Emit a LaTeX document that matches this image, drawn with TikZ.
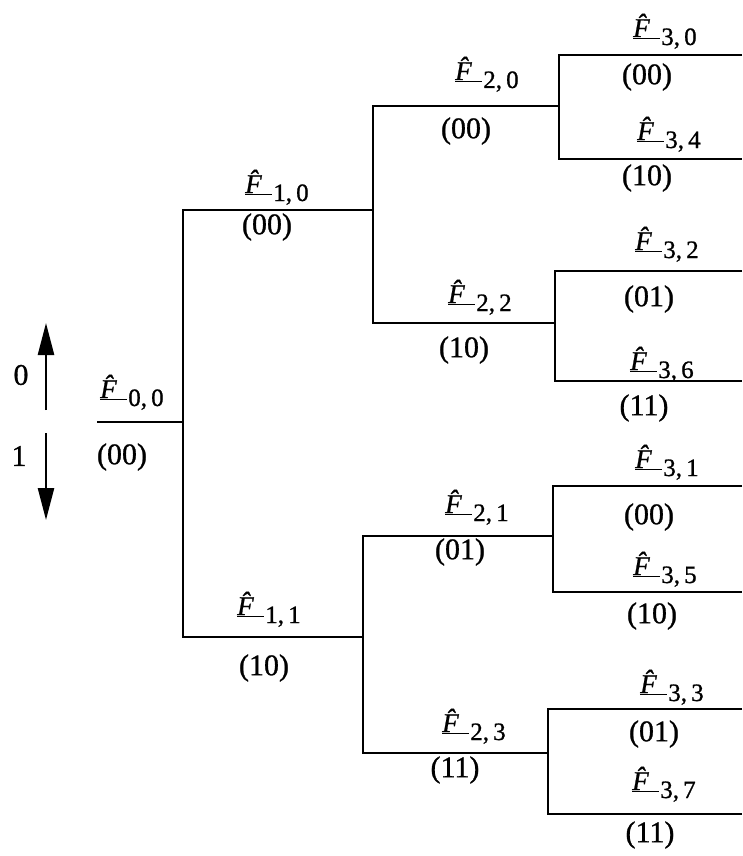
\documentclass[tikz,border=0pt]{standalone}
\usepackage{fontspec}
\setmainfont{Liberation Serif}[
  UprightFeatures={FakeBold=0.9},
  ItalicFeatures={FakeBold=0.9}]
\usetikzlibrary{arrows.meta}

% estimator label: underlined F-hat with a lowered index pair
\newcommand{\Fest}[2]{\underline{\textit{\^{F}}}\kern1.5pt\raisebox{-8pt}{\fontsize{25}{25}\selectfont#1,\,#2}}

\tikzset{
  wire/.style={line width=2.7pt, line join=miter},
  flab/.style={inner sep=0pt, anchor=base west, font=\fontsize{27}{27}\selectfont},
  clab/.style={inner sep=0pt, font=\fontsize{30}{30}\selectfont},
  dirarrow/.style={line width=2.5pt, -{Triangle[length=32pt,width=16pt]}},
}

\begin{document}
\begin{tikzpicture}[x=1pt,y=-1pt]
\useasboundingbox (0,0) rectangle (742,856);

% ---- branch points ----
\coordinate (r)   at (97,422);
\coordinate (j0)  at (183,422);
\coordinate (j0t) at (183,210);
\coordinate (j0b) at (183,637);
% level 1
\coordinate (u1)  at (373,210);
\coordinate (u1t) at (373,106);
\coordinate (u1b) at (373,323);
\coordinate (l1)  at (363,637);
\coordinate (l1t) at (363,536);
\coordinate (l1b) at (363,753);
% level 2
\coordinate (a)   at (559,106);
\coordinate (at)  at (559,55);
\coordinate (ab)  at (559,159);
\coordinate (b)   at (555,323);
\coordinate (bt)  at (555,271);
\coordinate (bb)  at (555,381);
\coordinate (c)   at (553,536);
\coordinate (ct)  at (553,486);
\coordinate (cb)  at (553,592);
\coordinate (d)   at (548,753);
\coordinate (dt)  at (548,709);
\coordinate (db)  at (548,814);
% leaves
\coordinate (e0) at (742,55);
\coordinate (e4) at (742,159);
\coordinate (e2) at (742,271);
\coordinate (e6) at (742,381);
\coordinate (e1) at (742,486);
\coordinate (e5) at (742,592);
\coordinate (e3) at (742,709);
\coordinate (e7) at (742,814);

% ---- tree ----
\draw[wire] (r) -- (j0);
\draw[wire] (u1) -- (j0t) -- (j0b) -- (l1);
\draw[wire] (a) -- (u1t) -- (u1b) -- (b);
\draw[wire] (c) -- (l1t) -- (l1b) -- (d);
\draw[wire] (e0) -- (at) -- (ab) -- (e4);
\draw[wire] (e2) -- (bt) -- (bb) -- (e6);
\draw[wire] (e1) -- (ct) -- (cb) -- (e5);
\draw[wire] (e3) -- (dt) -- (db) -- (e7);

% ---- direction key ----
\coordinate (k0s) at (46,410);
\coordinate (k0e) at (46,323);
\coordinate (k1s) at (46,433);
\coordinate (k1e) at (46,520);
\draw[dirarrow] (k0s) -- (k0e);
\draw[dirarrow] (k1s) -- (k1e);
\node[clab] (k0) at (21,375) {0};
\node[clab] (k1) at (19,456) {1};

% ---- estimator labels ----
\node[flab] (f00) at (100,398) {\Fest{0}{0}};
\node[flab] (f10) at (245,193) {\Fest{1}{0}};
\node[flab] (f11) at (237,615) {\Fest{1}{1}};
\node[flab] (f20) at (455,80)  {\Fest{2}{0}};
\node[flab] (f22) at (448,303) {\Fest{2}{2}};
\node[flab] (f21) at (445,513) {\Fest{2}{1}};
\node[flab] (f23) at (442,732) {\Fest{2}{3}};
\node[flab] (f30) at (633,37)  {\Fest{3}{0}};
\node[flab] (f34) at (637,140) {\Fest{3}{4}};
\node[flab] (f32) at (635,250) {\Fest{3}{2}};
\node[flab] (f36) at (630,370) {\Fest{3}{6}};
\node[flab] (f31) at (635,468) {\Fest{3}{1}};
\node[flab] (f35) at (633,575) {\Fest{3}{5}};
\node[flab] (f33) at (640,693) {\Fest{3}{3}};
\node[flab] (f37) at (632,790) {\Fest{3}{7}};

% ---- path codes ----
\node[clab] (c00) at (122,457) {(00)};
\node[clab] (c10) at (267,227) {(00)};
\node[clab] (c11) at (264,668) {(10)};
\node[clab] (c20) at (466,131) {(00)};
\node[clab] (c22) at (464,350) {(10)};
\node[clab] (c21) at (460,552) {(01)};
\node[clab] (c23) at (455,770) {(11)};
\node[clab] (c30) at (647,77)  {(00)};
\node[clab] (c34) at (647,178) {(10)};
\node[clab] (c32) at (649,299) {(01)};
\node[clab] (c36) at (644,408) {(11)};
\node[clab] (c31) at (649,517) {(00)};
\node[clab] (c35) at (652,616) {(10)};
\node[clab] (c33) at (654,734) {(01)};
\node[clab] (c37) at (650,835) {(11)};
\end{tikzpicture}
\end{document}
